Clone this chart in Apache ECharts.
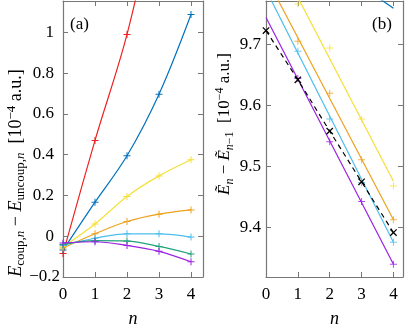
<!DOCTYPE html>
<html>
<head>
<meta charset="utf-8">
<script src="https://cdn.jsdelivr.net/npm/echarts@6/dist/echarts.min.js"></script>
<style>
  html, body { margin: 0; padding: 0; background: #fff; }
  #chart { width: 407px; height: 333px; }
</style>
</head>
<body>
<div id="chart"></div>
<script>
// --- data ---------------------------------------------------------------
const nVals = [0, 1, 2, 3, 4];
const ticksA = [-0.2, 0, 0.2, 0.4, 0.6, 0.8, 1];
const ticksB = [9.4, 9.5, 9.6, 9.7];

// panel (a): E_coup,n - E_uncoup,n  [1e-4 a.u.]
const coupRed = [-0.085, 0.47, 0.99, 1.68, 2.4];
const coupBlue = [-0.068, 0.167, 0.395, 0.697, 1.088];
const coupYellow = [-0.052, 0.06, 0.195, 0.296, 0.375];
const coupOrange = [-0.058, 0.012, 0.072, 0.108, 0.129];
const coupLightBlue = [-0.045, -0.01, 0.012, 0.012, -0.004];
const coupGreen = [-0.04, -0.022, -0.024, -0.05, -0.087];
const coupPurple = [-0.033, -0.027, -0.045, -0.074, -0.125];

// panel (b): fitted lines (values at n = 0 and n = 4) and data points
const fitN = [0, 4];
const fitBlue = [9.903, 9.759];
const fitYellow = [9.877, 9.476];
const fitOrange = [9.810, 9.413];
const fitLightBlue = [9.789, 9.376];
const fitPurple = [9.744, 9.340];

const markN = [1, 2, 3, 4];
const diffYellow = [9.766, 9.694, 9.578, 9.468];
const diffOrange = [9.705, 9.620, 9.511, 9.413];
const diffLightBlue = [9.6885, 9.578, 9.474, 9.376];
const diffPurple = [9.644, 9.5405, 9.443, 9.340];
const diffRef = [9.7225, 9.642, 9.558, 9.475, 9.392];

// --- style --------------------------------------------------------------
const cRed = '#EE2222', cBlue = '#0072BD', cYellow = '#F5E03A', cOrange = '#EDA11F',
  cLightBlue = '#4DBEEE', cGreen = '#20A27A', cPurple = '#9B22E3';
const font = 'Liberation Serif';
const axisGray = '#777';
const plus = 'path://M3,0H4V3H7V4H4V7H3V4H0V3H3Z';

const pairs = (xs, ys) => xs.map((x, i) => [x, ys[i]]);
const fmt = v => (Math.abs(v) < 1e-9 ? '0' : String(+v.toFixed(2))).replace('-', '\u2212');

function axisCommon(extra) {
  return Object.assign({
    type: 'value',
    axisLine: { show: true, onZero: false, lineStyle: { color: axisGray, width: 1.2 } },
    axisTick: { show: true, inside: true, length: 5, lineStyle: { color: axisGray, width: 1 } },
    splitLine: { show: false },
    axisLabel: { show: false }
  }, extra);
}

function xAxes(grid, max) {
  const ticks = { show: true, inside: true, length: 5, customValues: nVals, lineStyle: { color: axisGray } };
  return [
    axisCommon({
      gridIndex: grid, position: 'bottom', min: 0, max: max, axisTick: ticks,
      axisLabel: { show: true, customValues: nVals, margin: 9, color: '#000', fontFamily: font, fontSize: 17, formatter: v => fmt(v) },
      name: 'n', nameLocation: 'middle', nameGap: 33,
      nameTextStyle: { fontFamily: font, fontStyle: 'italic', fontSize: 18, color: '#000' }
    }),
    axisCommon({ gridIndex: grid, position: 'top', min: 0, max: max, axisTick: ticks })
  ];
}

function lineA(data, color) {
  return {
    type: 'line', xAxisIndex: 0, yAxisIndex: 0, data: pairs(nVals, data),
    smooth: 0.35, symbol: plus, symbolSize: 7,
    lineStyle: { color: color, width: 1.2 }, itemStyle: { color: color, borderWidth: 0 }
  };
}
function fitB(data, color) {
  return {
    type: 'line', xAxisIndex: 2, yAxisIndex: 2, data: pairs(fitN, data), showSymbol: false, symbol: 'none',
    lineStyle: { color: color, width: 1.2 }
  };
}
function markB(data, color) {
  return {
    type: 'scatter', xAxisIndex: 2, yAxisIndex: 2, data: pairs(markN, data),
    symbol: plus, symbolSize: 7, itemStyle: { color: color, borderWidth: 0 }
  };
}

function labelRich(size) {
  const sub = Math.round(size * 0.7);
  return {
    n: { fontFamily: font, fontSize: size, color: '#000', lineHeight: 22, verticalAlign: 'middle' },
    i: { fontFamily: font, fontSize: size, fontStyle: 'italic', color: '#000', lineHeight: 22, verticalAlign: 'middle' },
    s: { fontFamily: font, fontSize: sub, color: '#000', lineHeight: 12, verticalAlign: 'bottom' },
    si: { fontFamily: font, fontSize: sub, fontStyle: 'italic', color: '#000', lineHeight: 12, verticalAlign: 'bottom' },
    p: { fontFamily: font, fontSize: sub, color: '#000', lineHeight: 12, verticalAlign: 'top' }
  };
}

const chart = echarts.init(document.getElementById('chart'), null, { renderer: 'canvas' });
chart.setOption({
  animation: false,
  backgroundColor: '#fff',
  grid: [
    { left: 63, top: 1, width: 140, height: 287 },
    { left: 266, top: 1, width: 137, height: 287 }
  ],
  xAxis: [].concat(xAxes(0, 4.375), xAxes(1, 4.3)),
  yAxis: [
    axisCommon({
      gridIndex: 0, position: 'left', min: -0.2, max: 1.1538,
      axisTick: { show: true, inside: true, length: 5, customValues: ticksA, lineStyle: { color: axisGray } },
      axisLabel: {
        show: true, customValues: ticksA, margin: 3,
        formatter: v => (v < -0.1 ? '{m|' + fmt(v) + '}' : '{d|' + fmt(v) + '}'),
        rich: {
          m: { fontFamily: font, fontSize: 17, color: '#000' },
          d: { fontFamily: font, fontSize: 17, color: '#000', padding: [0, 6, 0, 0] }
        }
      }
    }),
    axisCommon({
      gridIndex: 0, position: 'right', min: -0.2, max: 1.1538,
      axisTick: { show: true, inside: true, length: 5, customValues: ticksA, lineStyle: { color: axisGray } }
    }),
    axisCommon({
      gridIndex: 1, position: 'left', min: 9.3193, max: 9.7709,
      axisTick: { show: true, inside: true, length: 5, customValues: ticksB, lineStyle: { color: axisGray } },
      axisLabel: { show: true, customValues: ticksB, margin: 5, color: '#000', fontFamily: font, fontSize: 17, formatter: v => v.toFixed(1) }
    }),
    axisCommon({
      gridIndex: 1, position: 'right', min: 9.3193, max: 9.7709,
      axisTick: { show: true, inside: true, length: 5, customValues: ticksB, lineStyle: { color: axisGray } }
    })
  ],
  graphic: [
    {
      type: 'text', x: 16, y: 173, rotation: Math.PI / 2,
      style: {
        text: '{i|E}{s|coup,}{si|n}{n| \u2212 }{i|E}{s|uncoup,}{si|n}{n|  [10}{p|\u22124}{n| a.u.]}',
        rich: labelRich(18), align: 'center', verticalAlign: 'middle'
      }
    },
    {
      type: 'text', x: 225, y: 124, rotation: Math.PI / 2,
      style: {
        text: '{i|\u1EBC}{si|n}{n| \u2212 }{i|\u1EBC}{si|n}{s|\u22121}{n|  [10}{p|\u22124}{n| a.u.]}',
        rich: labelRich(17), align: 'center', verticalAlign: 'middle'
      }
    },
    { type: 'text', x: 70, y: 16, style: { text: '(a)', fontFamily: font, fontSize: 17, fill: '#000' } },
    { type: 'text', x: 372, y: 16, style: { text: '(b)', fontFamily: font, fontSize: 17, fill: '#000' } }
  ],
  series: [
    lineA(coupRed, cRed),
    lineA(coupBlue, cBlue),
    lineA(coupYellow, cYellow),
    lineA(coupOrange, cOrange),
    lineA(coupLightBlue, cLightBlue),
    lineA(coupGreen, cGreen),
    lineA(coupPurple, cPurple),

    fitB(fitBlue, cBlue),
    fitB(fitYellow, cYellow),
    fitB(fitOrange, cOrange),
    fitB(fitLightBlue, cLightBlue),
    fitB(fitPurple, cPurple),
    markB(diffYellow, cYellow),
    markB(diffOrange, cOrange),
    markB(diffLightBlue, cLightBlue),
    markB(diffPurple, cPurple),
    {
      type: 'line', xAxisIndex: 2, yAxisIndex: 2, data: pairs(nVals, diffRef),
      symbol: plus, symbolSize: 9, symbolRotate: 45,
      lineStyle: { color: '#000', width: 1.2, type: [5, 4] },
      itemStyle: { color: '#000', borderWidth: 0 }
    }
  ]
});
</script>
</body>
</html>
